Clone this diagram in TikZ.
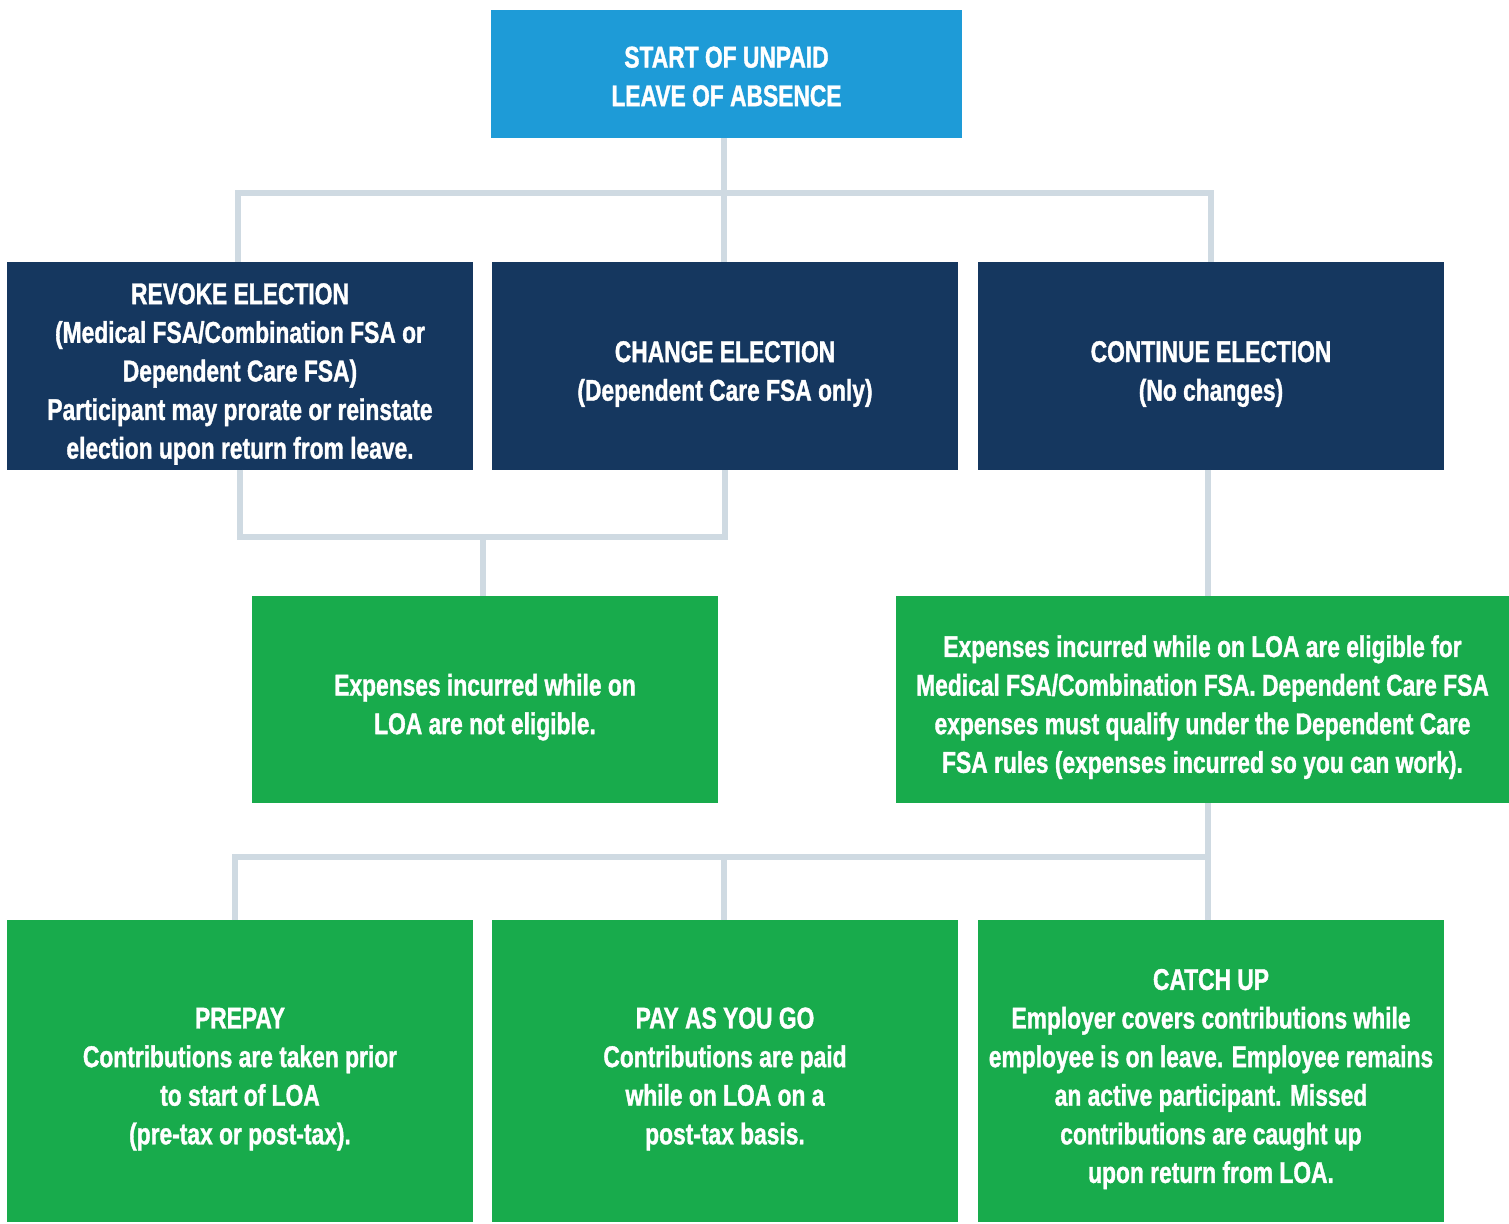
\documentclass[tikz,border=0pt]{standalone}
\usepackage{fontspec}
\setmainfont{Liberation Sans}
\newfontfamily\boxfont{Liberation Sans}[FakeStretch=0.76,UprightFont=* Bold,FakeBold=1.2]
\usetikzlibrary{positioning,calc}
\definecolor{startblue}{HTML}{1E9BD7}
\definecolor{navy}{HTML}{15375F}
\definecolor{leafgreen}{HTML}{18AB4C}
\definecolor{linkgray}{HTML}{CFDAE2}
\newcommand{\tp}{\rule{0pt}{18.5pt}}

\tikzset{
  box/.style={rectangle,inner sep=0pt,outer sep=0pt,text=white,align=center,
    font=\boxfont\fontsize{15}{19.3}\selectfont},
  startbox/.style={box,fill=startblue,minimum width=235.5pt,minimum height=64pt},
  navybox/.style={box,fill=navy,minimum width=233pt,minimum height=104pt},
  greenbox/.style={box,fill=leafgreen,minimum width=233pt,minimum height=103.5pt},
  widebox/.style={box,fill=leafgreen,minimum width=306.5pt,minimum height=103.5pt},
  tallbox/.style={box,fill=leafgreen,minimum width=233pt,minimum height=151pt},
  link/.style={draw=linkgray,line width=2.7pt}
}

\begin{document}
\begin{tikzpicture}[x=0.5pt,y=-0.5pt]
   \useasboundingbox (0,0) rectangle (1509,1224);

   \node[startbox] (start) at (726.5,74) {\rule{0pt}{13pt}START OF UNPAID\\LEAVE OF ABSENCE};

   \node[navybox] (revoke) at (240,366) {\tp REVOKE ELECTION\\(Medical FSA/Combination FSA or\\Dependent Care FSA)\\Participant may prorate or reinstate\\election upon return from leave.};
   \node[navybox] (change) at (725,366) {\tp CHANGE ELECTION\\(Dependent Care FSA only)};
   \node[navybox] (cont) at (1211,366) {\tp CONTINUE ELECTION\\(No changes)};

   \node[greenbox] (noteligible) at (485,699.5) {\tp Expenses incurred while on\\LOA are not eligible.};
   \node[widebox] (eligible) at (1202.5,699.5) {\tp Expenses incurred while on LOA are eligible for\\Medical FSA/Combination FSA. Dependent Care FSA\\expenses must qualify under the Dependent Care\\FSA rules (expenses incurred so you can work).};

   \node[tallbox] (prepay) at (240,1071) {\tp PREPAY\\Contributions are taken prior\\to start of LOA\\(pre-tax or post-tax).};
   \node[tallbox] (paygo) at (725,1071) {\tp PAY AS YOU GO\\Contributions are paid\\while on LOA on a\\post-tax basis.};
   \node[tallbox] (catchup) at (1211,1071) {\tp CATCH UP\\Employer covers contributions while\\employee is on leave. Employee remains\\an active participant. Missed\\contributions are caught up\\upon return from LOA.};

   % junction points
   \coordinate (split1) at (724,193);
   \coordinate (join1) at (483,537);
   \coordinate (split2) at (1208,857);

   % links
   \draw[link] (start.south -| split1) -- (change.north -| split1);
   \draw[link] (revoke.north -| 238,0) -- (238,0 |- split1) -- (1211,0 |- split1) -- (cont.north);
   \draw[link] (revoke.south) -- (revoke.south |- join1) -- (change.south |- join1) -- (change.south);
   \draw[link] (join1) -- (noteligible.north -| join1);
   \draw[link] (cont.south -| split2) -- (eligible.north -| split2);
   \draw[link] (eligible.south -| split2) -- (catchup.north -| split2);
   \draw[link] (prepay.north -| 235,0) -- (235,0 |- split2) -- (split2);
   \draw[link] (paygo.north -| split1) -- (split1 |- split2);
\end{tikzpicture}
\end{document}
